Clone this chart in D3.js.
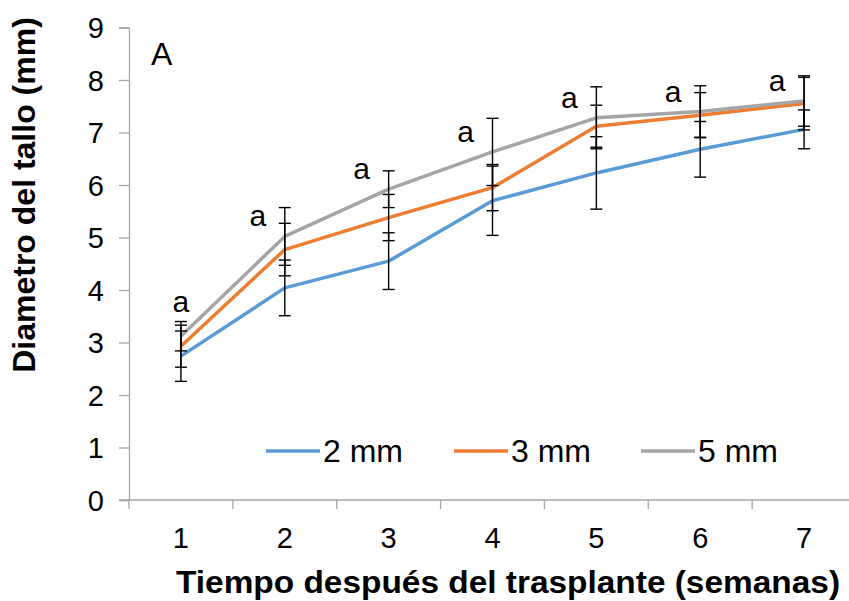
<!DOCTYPE html>
<html>
<head>
<meta charset="utf-8">
<script src="https://cdn.jsdelivr.net/npm/d3@7"></script>
<style>
  html, body { margin: 0; padding: 0; background: #fff; }
  svg { display: block; font-family: "Liberation Sans", Arial, sans-serif; }
</style>
</head>
<body>
<svg id="chart" width="849" height="601"></svg>
<script>
// Stem diameter over weeks after transplant, three seedling sizes
const weeks = [1, 2, 3, 4, 5, 6, 7];
const seriesNames = ["2 mm", "3 mm", "5 mm"];
const seriesColors = ["#5B9BD5", "#ED7D31", "#A5A5A5"];
const mean2mm = [2.74, 4.04, 4.55, 5.70, 6.23, 6.68, 7.06];
const mean3mm = [2.93, 4.77, 5.38, 5.95, 7.12, 7.33, 7.55];
const mean5mm = [3.12, 5.02, 5.92, 6.63, 7.28, 7.40, 7.60];
const err2mm = [0.48, 0.53, 0.54, 0.66, 0.69, 0.53, 0.37];
const err3mm = [0.40, 0.50, 0.44, 0.44, 0.40, 0.43, 0.50];
const err5mm = [0.28, 0.55, 0.35, 0.64, 0.59, 0.49, 0.48];
const letters = ["a", "a", "a", "a", "a", "a", "a"];
const yTicks = [0, 1, 2, 3, 4, 5, 6, 7, 8, 9];

const means = [mean2mm, mean3mm, mean5mm];
const errs = [err2mm, err3mm, err5mm];

const svg = d3.select("#chart");
const plotLeft = 129, plotRight = 856, plotTop = 27.5, plotBottom = 500;

const x = d3.scaleBand().domain(weeks).range([plotLeft, plotRight]).padding(0);
const xc = d => x(d) + x.bandwidth() / 2;
const y = d3.scaleLinear().domain([0, 9]).range([plotBottom, plotTop]);

const axisColor = "#A6A6A6";
const tickFont = 29;

// Y axis
const yAxis = svg.append("g")
  .attr("transform", `translate(${plotLeft},0)`)
  .call(d3.axisLeft(y).tickValues(yTicks).tickSize(10).tickPadding(15).tickFormat(d3.format("d")));
yAxis.select(".domain").attr("stroke", axisColor).attr("stroke-width", 1.3);
yAxis.selectAll(".tick line").attr("stroke", axisColor).attr("stroke-width", 1.3);
yAxis.selectAll(".tick text")
  .attr("font-size", tickFont).attr("fill", "#000")
  .attr("font-family", "Liberation Sans, Arial, sans-serif")
  .attr("dy", "0.36em");

// X axis: ticks sit on category boundaries
const xAxisG = svg.append("g").attr("transform", `translate(0,${plotBottom})`);
xAxisG.append("line")
  .attr("x1", plotLeft - 10).attr("x2", plotRight).attr("y1", 0).attr("y2", 0)
  .attr("stroke", axisColor).attr("stroke-width", 1.3);
xAxisG.selectAll("line.bound")
  .data(weeks)
  .join("line")
  .attr("class", "bound")
  .attr("x1", d => x(d)).attr("x2", d => x(d))
  .attr("y1", 0).attr("y2", 9)
  .attr("stroke", axisColor).attr("stroke-width", 1.3);
xAxisG.selectAll("text.wk")
  .data(weeks)
  .join("text")
  .attr("class", "wk")
  .attr("x", d => xc(d))
  .attr("y", 48)
  .attr("text-anchor", "middle")
  .attr("font-size", tickFont)
  .text(d => d);

// Series lines
const line = d3.line().x((d, i) => xc(weeks[i])).y(d => y(d));
means.forEach((m, s) => {
  svg.append("path")
    .datum(m)
    .attr("d", line)
    .attr("fill", "none")
    .attr("stroke", seriesColors[s])
    .attr("stroke-width", 3.5)
    .attr("stroke-linejoin", "round");
});

// Error bars
means.forEach((m, s) => {
  const g = svg.append("g").attr("stroke", "#000").attr("stroke-width", 1.4);
  m.forEach((v, i) => {
    const cx = xc(weeks[i]);
    const hi = y(v + errs[s][i]), lo = y(v - errs[s][i]);
    g.append("line").attr("x1", cx).attr("x2", cx).attr("y1", hi).attr("y2", lo);
    g.append("line").attr("x1", cx - 6).attr("x2", cx + 6).attr("y1", hi).attr("y2", hi);
    g.append("line").attr("x1", cx - 6).attr("x2", cx + 6).attr("y1", lo).attr("y2", lo);
  });
});

// Significance letters: first above its error bar, the rest left of the 5 mm point
svg.append("g").selectAll("text")
  .data(letters)
  .join("text")
  .attr("x", (d, i) => i === 0 ? xc(weeks[i]) : xc(weeks[i]) - 27)
  .attr("y", (d, i) => i === 0 ? y(mean5mm[i] + err5mm[i]) - 10 : y(mean5mm[i]) - 10)
  .attr("text-anchor", "middle")
  .attr("font-size", 30)
  .text(d => d);

// Panel letter
svg.append("text").attr("x", 151).attr("y", 65).attr("font-size", 32).text("A");

// Legend
const legendX = [266, 454, 641];
const legend = svg.append("g");
seriesNames.forEach((name, s) => {
  legend.append("line")
    .attr("x1", legendX[s]).attr("x2", legendX[s] + 54)
    .attr("y1", 451).attr("y2", 451)
    .attr("stroke", seriesColors[s]).attr("stroke-width", 3.5);
  legend.append("text")
    .attr("x", legendX[s] + 57).attr("y", 462)
    .attr("font-size", 32)
    .text(name);
});

// Axis titles
svg.append("text")
  .attr("x", 508).attr("y", 593)
  .attr("text-anchor", "middle")
  .attr("font-size", 32).attr("font-weight", "bold")
  .attr("textLength", 664).attr("lengthAdjust", "spacingAndGlyphs")
  .text("Tiempo después del trasplante (semanas)");
svg.append("text")
  .attr("transform", "translate(35,195) rotate(-90)")
  .attr("text-anchor", "middle")
  .attr("font-size", 32).attr("font-weight", "bold")
  .text("Diametro del tallo (mm)");
</script>
</body>
</html>
